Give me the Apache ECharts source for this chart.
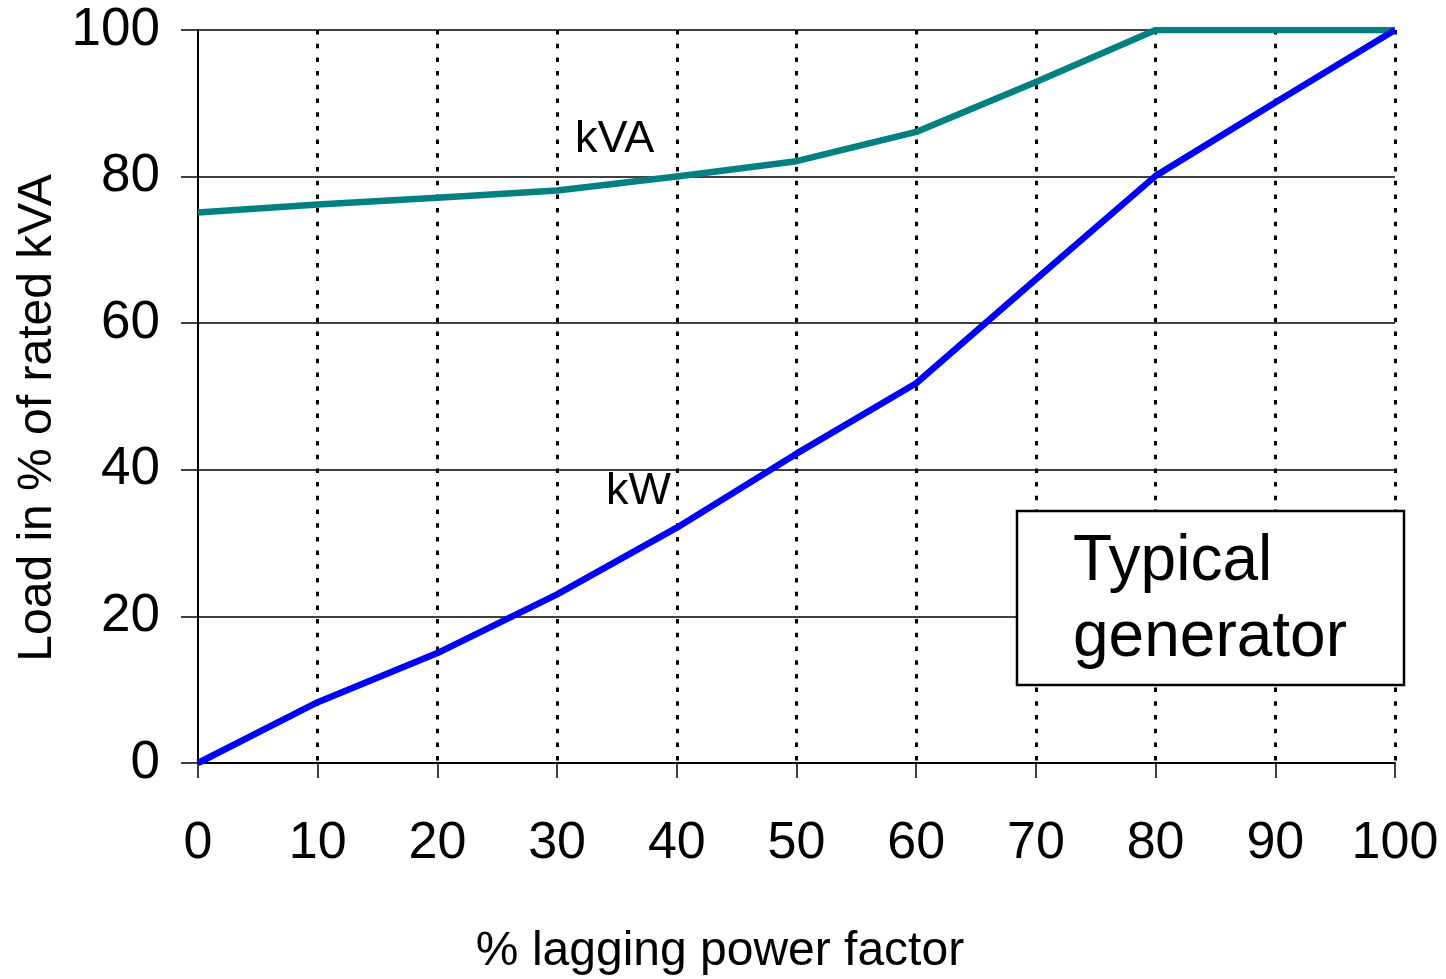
<!DOCTYPE html>
<html>
<head>
<meta charset="utf-8">
<script src="https://cdn.jsdelivr.net/npm/echarts@6/dist/echarts.min.js"></script>
<style>
html,body{margin:0;padding:0;background:#fff;}
#c{width:1446px;height:979px;}
</style>
</head>
<body>
<div id="c"></div>
<script>
// Data
const powerFactor = [0, 10, 20, 30, 40, 50, 60, 70, 80, 90, 100];
const kvaLoad = [75.1, 76.2, 77.1, 78.1, 80, 82.1, 86.1, 92.9, 100, 100, 100];
const kwLoad = [0, 8.3, 15.0, 23.0, 32.1, 42.2, 51.8, 66.0, 80.1, 90.1, 100];
const xTicks = [0, 10, 20, 30, 40, 50, 60, 70, 80, 90, 100];
const yTicks = [0, 20, 40, 60, 80, 100];
const seriesNames = ['kVA', 'kW'];
const xTitle = '% lagging power factor';
const yTitle = 'Load in % of rated kVA';
const boxText = 'Typical\ngenerator';

const FONT = '"Liberation Sans", Arial, Helvetica, sans-serif';
const chart = echarts.init(document.getElementById('c'), null, {renderer: 'canvas'});

function pairs(xs, ys) { return xs.map((x, i) => [x, ys[i]]); }

const option = {
  backgroundColor: '#ffffff',
  animation: false,
  textStyle: {fontFamily: FONT},
  grid: {left: 198, right: 51, top: 30, bottom: 216, containLabel: false},
  xAxis: {
    type: 'value', min: 0, max: 100, interval: 10,
    axisLine: {show: true, onZero: false, lineStyle: {color: '#000', width: 2}},
    axisTick: {show: true, inside: false, length: 15, lineStyle: {color: '#000', width: 1.5}},
    axisLabel: {show: true, margin: 55, fontSize: 52, color: '#000', fontFamily: FONT,
      formatter: v => xTicks.includes(v) ? String(v) : ''},
    splitLine: {show: true, showMinLine: false, lineStyle: {color: '#000', width: 3, type: [4.5, 9.2]}}
  },
  yAxis: {
    type: 'value', min: 0, max: 100, interval: 20,
    axisLine: {show: true, onZero: false, lineStyle: {color: '#000', width: 2}},
    axisTick: {show: true, inside: false, length: 17, lineStyle: {color: '#000', width: 1.5}},
    axisLabel: {show: true, margin: 38, fontSize: 53, color: '#000', fontFamily: FONT,
      formatter: v => yTicks.includes(v) ? String(v) : ''},
    splitLine: {show: true, showMinLine: false, lineStyle: {color: '#000', width: 1.5, type: 'solid'}}
  },
  series: [
    {
      name: seriesNames[0], type: 'line', data: pairs(powerFactor, kvaLoad),
      showSymbol: false, symbol: 'none', z: 5,
      lineStyle: {color: '#008080', width: 6.5, join: 'round'},
      markPoint: {
        symbol: 'circle', symbolSize: 1, itemStyle: {color: 'rgba(0,0,0,0)'},
        label: {show: true, position: 'inside', color: '#000', fontSize: 45, fontFamily: FONT, formatter: p => p.name},
        data: [{name: seriesNames[0], coord: [34.8, 85.1]}]
      }
    },
    {
      name: seriesNames[1], type: 'line', data: pairs(powerFactor, kwLoad),
      showSymbol: false, symbol: 'none', z: 5,
      lineStyle: {color: '#0000ff', width: 6.5, join: 'round'},
      markPoint: {
        symbol: 'circle', symbolSize: 1, itemStyle: {color: 'rgba(0,0,0,0)'},
        label: {show: true, position: 'inside', color: '#000', fontSize: 45, fontFamily: FONT, formatter: p => p.name},
        data: [{name: seriesNames[1], coord: [36.8, 37.0]}]
      }
    }
  ],
  graphic: [
    {
      type: 'text', x: 38, y: 418, rotation: Math.PI / 2, z: 10,
      style: {text: yTitle, font: '48px ' + FONT, fill: '#000', align: 'center', verticalAlign: 'middle'}
    },
    {
      type: 'text', x: 720, y: 952, z: 10,
      style: {text: xTitle, font: '48px ' + FONT, fill: '#000', align: 'center', verticalAlign: 'middle'}
    },
    {
      type: 'rect', z: 20,
      shape: {x: 1017, y: 511, width: 387, height: 174},
      style: {fill: '#fff', stroke: '#000', lineWidth: 2.5}
    },
    {
      type: 'text', x: 1073, y: 524, z: 21,
      style: {text: boxText, font: '64px ' + FONT, lineHeight: 76, fill: '#000', align: 'left', verticalAlign: 'top'}
    }
  ]
};
chart.setOption(option);
</script>
</body>
</html>
